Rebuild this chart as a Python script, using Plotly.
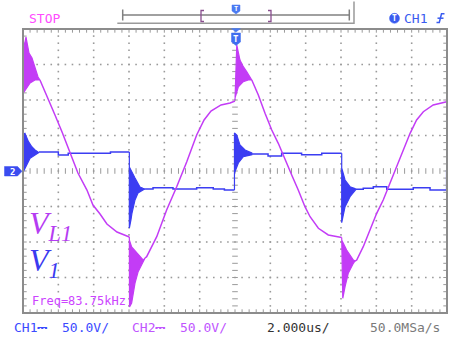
import numpy as np
import plotly.graph_objects as go

# ---------------- data: time in microseconds, voltage in volts ----------------
# (scope: 2 us/div horizontally, 50 V/div vertically, trigger at t = 0)

# V1 (CH1, blue) - settled segments
v1_seg1_t = [-11.1, -10.0, -10.0, -9.44, -9.44, -7.05, -7.05, -5.98]
v1_seg1_v = [26.8, 26.8, 22.5, 22.5, 24.9, 24.9, 26.8, 26.8]
v1_seg2_t = [-5.09, -4.64, -4.64, -3.51, -3.51, -2.17, -2.17, -1.23, -1.23, -0.6, -0.6, -0.03]
v1_seg2_v = [-25.4, -25.4, -23.5, -23.5, -25.4, -25.4, -23.5, -23.5, -25.4, -25.4, -26.8, -26.8]
v1_seg3_t = [0.95, 1.87, 1.87, 2.64, 2.64, 3.77, 3.77, 4.91, 4.91, 6.04]
v1_seg3_v = [23.9, 23.9, 21.1, 21.1, 24.9, 24.9, 23.0, 23.0, 24.9, 24.9]
v1_seg4_t = [6.85, 7.26, 7.26, 7.83, 7.83, 8.59, 8.59, 10.09, 10.09, 11.04, 11.04, 11.98, 11.98]
v1_seg4_v = [-25.8, -25.8, -24.4, -24.4, -22.1, -22.1, -25.8, -25.8, -23.5, -23.5, -26.8, -26.8, 1.4]

# V1 ringing bursts (outline of the filled envelope)
v1_burst0_t = [-11.98, -11.79, -11.6, -11.32, -11.13, -11.1, -11.13, -11.32, -11.5, -11.69, -11.89, -11.98]
v1_burst0_v = [-1.0, 8.5, 17.9, 22.5, 24.9, 26.0, 26.3, 29.6, 34.2, 41.3, 53.1, 52.1]
v1_burst1_t = [-5.98, -5.98, -5.89, -5.83, -5.66, -5.49, -5.21, -5.09, -5.21, -5.38, -5.66, -5.94, -5.98]
v1_burst1_v = [26.8, -80.3, -69.0, -59.2, -40.8, -31.0, -26.8, -25.4, -24.5, -22.5, -9.9, 4.2, 5.6]
v1_burst2_t = [-0.03, -0.03, 0.10, 0.28, 0.57, 0.95, 0.95, 0.47, 0.19, -0.03]
v1_burst2_v = [-26.8, 53.5, 50.7, 36.6, 29.6, 25.4, 23.0, 20.1, 11.3, -2.8]
v1_burst3_t = [6.04, 6.04, 6.23, 6.51, 6.79, 6.85, 6.79, 6.51, 6.23, 6.04]
v1_burst3_v = [24.9, -72.8, -50.3, -36.2, -27.5, -25.8, -24.8, -22.1, -12.7, 4.2]

# VL1 (CH2, magenta) - smooth segments
vl1_seg1_t = [-11.04, -10.58, -10.19, -9.79, -9.45, -9.17, -8.89, -8.38, -8.04, -7.64, -7.25, -6.68, -6.04, -5.98]
vl1_seg1_v = [128.2, 102.8, 78.9, 54.9, 32.4, 15.5, -2.8, -26.8, -47.9, -60.6, -74.7, -85.9, -93.0, -93.0]
vl1_seg2_t = [-5.09, -5.0, -4.43, -3.87, -3.30, -2.73, -2.17, -1.75, -1.36, -0.79, -0.28, 0.0]
vl1_seg2_v = [-122.5, -120.7, -92.5, -54.9, -22.1, 13.1, 50.7, 71.8, 84.5, 93.0, 95.9, 98.6]
vl1_seg3_t = [0.95, 1.32, 1.70, 2.08, 2.45, 2.83, 3.21, 3.58, 3.96, 4.25, 4.72, 5.28, 5.85, 6.04]
vl1_seg3_v = [128.2, 107.0, 81.3, 57.7, 39.0, 17.9, -5.6, -26.8, -50.3, -64.4, -80.7, -90.1, -93.4, -93.7]
vl1_seg4_t = [6.79, 6.89, 7.26, 7.64, 8.02, 8.39, 8.77, 9.15, 9.53, 9.91, 10.28, 10.66, 11.22, 11.98, 12.0]
vl1_seg4_v = [-126.8, -125.4, -106.6, -83.1, -59.6, -40.8, -17.3, 6.1, 29.6, 53.1, 71.8, 83.5, 93.0, 97.6, 121.1]

# VL1 ringing bursts
vl1_burst0_t = [-11.98, -11.77, -11.6, -11.32, -11.04, -11.15, -11.32, -11.49, -11.66, -11.74, -11.83, -11.98]
vl1_burst0_v = [109.9, 116.9, 124.0, 128.2, 128.2, 132.4, 145.1, 159.2, 166.2, 177.5, 188.7, 170.4]
vl1_burst1_t = [-5.98, -5.97, -5.85, -5.66, -5.49, -5.21, -5.09, -5.19, -5.56, -5.85, -5.98]
vl1_burst1_v = [-93.0, -191.6, -185.9, -157.8, -142.3, -129.6, -122.5, -125.4, -115.5, -107.0, -97.2]
vl1_burst2_t = [0.0, 0.06, 0.10, 0.28, 0.47, 0.66, 0.95, 0.75, 0.47, 0.19, 0.0]
vl1_burst2_v = [100.0, 170.4, 177.5, 156.3, 146.9, 139.9, 128.2, 128.2, 125.8, 118.7, 102.8]
vl1_burst3_t = [6.04, 6.10, 6.23, 6.41, 6.70, 6.79, 6.70, 6.32, 6.04]
vl1_burst3_v = [-93.7, -179.3, -163.0, -144.1, -130.0, -126.8, -125.4, -111.3, -97.2]

# text
status_label = "STOP"
freq_label = "Freq=83.75kHz"
ch1_label, ch1_scale = "CH1\u2393", "50.0V/"
ch2_label, ch2_scale = "CH2\u2393", "50.0V/"
time_scale = "2.000us/"
sample_rate = "50.0MSa/s"

# ---------------- styling ----------------
BLUE = "#3b3df2"
MAG = "#c33cf6"
GRID = "#9a9a9a"
MONO = "DejaVu Sans Mono"

T_DIV, V_DIV = 2.0, 50.0
X_RANGE = [-6 * T_DIV, 6 * T_DIV]
Y_RANGE = [-4 * V_DIV, 4 * V_DIV]

L, R, T, B = 23, 6, 29, 28
W, H = 453, 341
PW, PH = W - L - R, H - T - B


def PX(x):
    return (x - L) / PW


def PY(y):
    return (H - B - y) / PH


fig = go.Figure()

# graticule dots
gx, gy = [], []
for tt in np.arange(-5, 6) * T_DIV:
    if tt == 0:
        continue
    for vv in np.arange(-19, 20) * (V_DIV / 5):
        gx.append(tt); gy.append(vv)
for vv in np.arange(-3, 4) * V_DIV:
    if vv == 0:
        continue
    for tt in np.arange(-29, 30) * (T_DIV / 5):
        gx.append(tt); gy.append(vv)
fig.add_trace(go.Scatter(x=gx, y=gy, mode="markers", hoverinfo="skip",
                         marker=dict(symbol="square", size=1.6, color=GRID, line=dict(width=0)),
                         cliponaxis=False))

# center axes tick marks
cx = list(np.arange(-29, 30) * (T_DIV / 5))
fig.add_trace(go.Scatter(x=cx, y=[0] * len(cx), mode="markers", hoverinfo="skip",
                         marker=dict(symbol="line-ns", size=4, line=dict(width=1, color=GRID))))
cy = list(np.arange(-19, 20) * (V_DIV / 5))
fig.add_trace(go.Scatter(x=[0] * len(cy), y=cy, mode="markers", hoverinfo="skip",
                         marker=dict(symbol="line-ew", size=4, line=dict(width=1, color=GRID))))
# border ticks
edge_v = Y_RANGE[1] - 1.6 * (Y_RANGE[1] - Y_RANGE[0]) / PH
edge_t = X_RANGE[1] - 1.6 * (X_RANGE[1] - X_RANGE[0]) / PW
fig.add_trace(go.Scatter(x=cx + cx, y=[edge_v] * len(cx) + [-edge_v] * len(cx), mode="markers",
                         hoverinfo="skip",
                         marker=dict(symbol="line-ns", size=3, line=dict(width=1, color=GRID))))
fig.add_trace(go.Scatter(x=[edge_t] * len(cy) + [-edge_t] * len(cy), y=cy + cy, mode="markers",
                         hoverinfo="skip",
                         marker=dict(symbol="line-ew", size=3, line=dict(width=1, color=GRID))))


def add_line(t, v, color):
    fig.add_trace(go.Scatter(x=t, y=v, mode="lines", hoverinfo="skip",
                             line=dict(color=color, width=1.5)))


def add_burst(t, v, color):
    fig.add_trace(go.Scatter(x=t, y=v, mode="lines", fill="toself", fillcolor=color,
                             hoverinfo="skip", line=dict(color=color, width=1.2)))


for t, v in [(v1_burst0_t, v1_burst0_v), (v1_burst1_t, v1_burst1_v),
             (v1_burst2_t, v1_burst2_v), (v1_burst3_t, v1_burst3_v)]:
    add_burst(t, v, BLUE)
for t, v in [(v1_seg1_t, v1_seg1_v), (v1_seg2_t, v1_seg2_v),
             (v1_seg3_t, v1_seg3_v), (v1_seg4_t, v1_seg4_v)]:
    add_line(t, v, BLUE)
for t, v in [(vl1_burst0_t, vl1_burst0_v), (vl1_burst1_t, vl1_burst1_v),
             (vl1_burst2_t, vl1_burst2_v), (vl1_burst3_t, vl1_burst3_v)]:
    add_burst(t, v, MAG)
for t, v in [(vl1_seg1_t, vl1_seg1_v), (vl1_seg2_t, vl1_seg2_v),
             (vl1_seg3_t, vl1_seg3_v), (vl1_seg4_t, vl1_seg4_v)]:
    add_line(t, v, MAG)

shapes = []
# frame
shapes.append(dict(type="rect", xref="paper", yref="paper", x0=0, x1=1, y0=0, y1=1,
                   line=dict(color="#8c8c8c", width=2), layer="above"))


def path(points, close=False):
    s = "M " + " L ".join(f"{PX(x):.5f},{PY(y):.5f}" for x, y in points)
    return s + (" Z" if close else "")


def add_path(points, color, fill=None, width=1.5, close=False):
    shapes.append(dict(type="path", xref="paper", yref="paper", path=path(points, close),
                       line=dict(color=color, width=width),
                       fillcolor=fill if fill else "rgba(0,0,0,0)", layer="above"))


# top memory bar
add_path([(122.7, 15), (349.3, 15)], "#808080", width=1.5)
add_path([(122.7, 9.5), (122.7, 20.5)], "#808080", width=1.5)
add_path([(349.3, 9.5), (349.3, 20.5)], "#808080", width=1.5)
add_path([(117.3, 23.3), (354, 23.3), (354, 1.5)], "#9a9a9a", width=1.5)
add_path([(204, 10.5), (201, 10.5), (201, 21.5), (204, 21.5)], "#8a4f8f", width=1.3)
add_path([(268, 10.5), (271, 10.5), (271, 21.5), (268, 21.5)], "#8a4f8f", width=1.3)
add_path([(232, 5), (240, 5), (240, 11), (236, 14), (232, 11)], "#4a7af2", fill="#4a7af2", width=0.5, close=True)
# trigger pin in graticule
add_path([(231.5, 28.6), (240.5, 28.6), (236, 32)], "#4a7af2", fill="#4a7af2", width=0.5, close=True)
add_path([(231.5, 33), (240.5, 33), (240.5, 42), (236, 45.5), (231.5, 42)], "#3f6ef0", fill="#3f6ef0", width=0.5, close=True)
# ground marker of channel
add_path([(4.5, 166.5), (17.5, 166.5), (22, 171.3), (17.5, 176), (4.5, 176)], "#3a4cf0", fill="#3a4cf0", width=0.5, close=True)
# trigger source badge
shapes.append(dict(type="circle", xref="paper", yref="paper", x0=PX(389.5), x1=PX(399.5),
                   y0=PY(23.3), y1=PY(13.3), line=dict(color="#3a5cf0", width=0.5), fillcolor="#3a5cf0"))
add_path([(436.5, 22.5), (439.3, 22.5), (441.5, 13.8), (444.5, 13.8)], "#3a5cf0", width=1.5)
add_path([(437.5, 18.2), (443.5, 18.2)], "#3a5cf0", width=1.5)

annotations = []


def add_text(x, y, text, color, size=13, family=MONO, anchor="left", bold=False):
    annotations.append(dict(xref="paper", yref="paper", x=PX(x), y=PY(y), text=("<b>" + text + "</b>") if bold else text,
                            showarrow=False, xanchor=anchor, yanchor="middle",
                            font=dict(family=family, size=size, color=color)))


add_text(26.5, 18.3, status_label, "#ff4cff")
add_text(402, 18.3, "CH1", "#3a5cf0")
add_text(394.5, 18.5, "T", "white", size=8, anchor="center", bold=True)
add_text(236, 9.5, "T", "white", size=7, anchor="center", bold=True)
add_text(236, 38.5, "T", "white", size=9, anchor="center", bold=True)
add_text(12.5, 171.5, "2", "white", size=9, anchor="center", bold=True)
add_text(29.5, 300.5, freq_label, "#cc44ff", size=12)
add_text(11.5, 327.5, ch1_label, "#3b4bff")
add_text(59.5, 327.5, ch1_scale, "#3b4bff")
add_text(129.5, 327.5, ch2_label, "#c055ff")
add_text(177.5, 327.5, ch2_scale, "#c055ff")
add_text(264.5, 327.5, time_scale, "#333333")
add_text(367.5, 327.5, sample_rate, "#7a7a7a")
add_text(27, 225, "<i>V<sub>L1</sub></i>", "#b53cf2", size=32, family="Liberation Serif")
add_text(27, 262, "<i>V<sub>1</sub></i>", "#3a3af0", size=32, family="Liberation Serif")

fig.update_layout(
    width=W, height=H, margin=dict(l=L, r=R, t=T, b=B, pad=0),
    paper_bgcolor="white", plot_bgcolor="white", showlegend=False,
    xaxis=dict(range=X_RANGE, showgrid=False, zeroline=False, showticklabels=False,
               ticks="", showline=False, fixedrange=True),
    yaxis=dict(range=Y_RANGE, showgrid=False, zeroline=False, showticklabels=False,
               ticks="", showline=False, fixedrange=True),
    shapes=shapes, annotations=annotations,
)

fig.write_html("out.html")
